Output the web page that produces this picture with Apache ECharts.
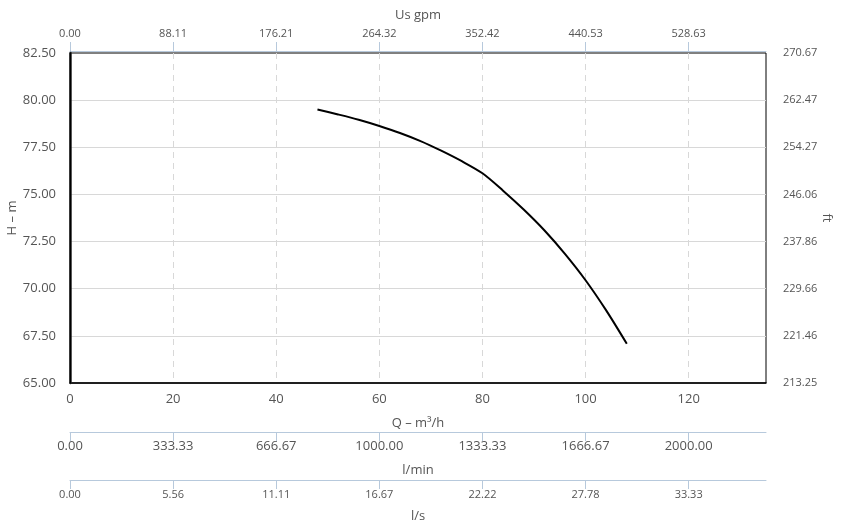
<!DOCTYPE html>
<html><head><meta charset="utf-8">
<script src="https://cdn.jsdelivr.net/npm/echarts@6/dist/echarts.min.js"></script>
<style>html,body{margin:0;padding:0;background:#fff}#c{width:841px;height:532px}</style>
</head><body><div id="c"></div>
<script>
// Data
const flowM3h = [48, 52, 56, 60, 64, 68, 72, 76, 80, 84, 88, 92, 96, 100, 104, 108];
const headM = [79.5, 79.24, 78.96, 78.63, 78.26, 77.83, 77.32, 76.76, 76.12, 75.2, 74.2, 73.1, 71.85, 70.45, 68.85, 67.08];
const qTicks = ['0', '20', '40', '60', '80', '100', '120'];
const gpmTicks = ['0.00', '88.11', '176.21', '264.32', '352.42', '440.53', '528.63'];
const lminTicks = ['0.00', '333.33', '666.67', '1000.00', '1333.33', '1666.67', '2000.00'];
const lsTicks = ['0.00', '5.56', '11.11', '16.67', '22.22', '27.78', '33.33'];
const hTicks = ['65.00', '67.50', '70.00', '72.50', '75.00', '77.50', '80.00', '82.50'];
const ftTicks = ['213.25', '221.46', '229.66', '237.86', '246.06', '254.27', '262.47', '270.67'];

const X_MIN = 0, X_MAX = 135, X_INT = 20;
const Y_MIN = 65, Y_MAX = 82.5, Y_INT = 2.5;
const xTickValues = qTicks.map((_, i) => X_MIN + i * X_INT);
const pick = (arr, v, min, step) => { const i = Math.round((v - min) / step); return arr[i] !== undefined ? arr[i] : ''; };

const FONT = 'Open Sans';
const labelColor = '#555';
const blueLine = '#b7c9dc';

function xAx(extra) {
  return Object.assign({
    type: 'value', min: X_MIN, max: X_MAX, interval: X_INT,
    nameLocation: 'middle', nameMoveOverlap: false,
    nameTextStyle: { color: labelColor, fontFamily: FONT, fontSize: 13 },
    splitLine: { show: false }
  }, extra);
}

const chart = echarts.init(document.getElementById('c'), null, { renderer: 'canvas' });
chart.setOption({
  animation: false,
  grid: { left: 70, right: 75, top: 53, bottom: 149, outerBoundsMode: 'none', containLabel: false, show: true, borderColor: '#000', borderWidth: 1, backgroundColor: 'transparent' },
  xAxis: [
    xAx({
      position: 'bottom', name: 'Q – m³/h', nameGap: 34, z: 1,
      axisLine: { show: true, lineStyle: { color: '#000', width: 1.5 } },
      axisTick: { show: false },
      axisLabel: { color: labelColor, fontFamily: FONT, fontSize: 13, margin: 10, formatter: v => pick(qTicks, v, X_MIN, X_INT) },
      splitLine: { show: true, showMinLine: false, showMaxLine: false, lineStyle: { color: '#d8d8d8', type: [6, 5], width: 1 } }
    }),
    xAx({
      position: 'top', offset: 2, name: 'Us gpm', nameGap: 29,
      axisLine: { show: true, lineStyle: { color: blueLine, width: 1 } },
      axisTick: { show: true, length: 9, customValues: xTickValues, lineStyle: { color: blueLine } },
      axisLabel: { color: labelColor, fontFamily: FONT, fontSize: 11, margin: 12, customValues: xTickValues, formatter: v => pick(gpmTicks, v, X_MIN, X_INT) }
    }),
    xAx({
      position: 'bottom', offset: 49, name: 'l/min', nameGap: 32,
      axisLine: { show: true, lineStyle: { color: blueLine, width: 1 } },
      axisTick: { show: true, length: 9, customValues: xTickValues, lineStyle: { color: blueLine } },
      axisLabel: { color: labelColor, fontFamily: FONT, fontSize: 13, margin: 8, customValues: xTickValues, formatter: v => pick(lminTicks, v, X_MIN, X_INT) }
    }),
    xAx({
      position: 'bottom', offset: 97, name: 'l/s', nameGap: 30,
      axisLine: { show: true, lineStyle: { color: blueLine, width: 1 } },
      axisTick: { show: true, length: 9, customValues: xTickValues, lineStyle: { color: blueLine } },
      axisLabel: { color: labelColor, fontFamily: FONT, fontSize: 11, margin: 9, customValues: xTickValues, formatter: v => pick(lsTicks, v, X_MIN, X_INT) }
    })
  ],
  yAxis: [
    {
      type: 'value', position: 'left', min: Y_MIN, max: Y_MAX, interval: Y_INT, z: 3,
      name: 'H – m', nameLocation: 'middle', nameGap: 51, nameRotate: 90, nameMoveOverlap: false,
      nameTextStyle: { color: labelColor, fontFamily: FONT, fontSize: 13 },
      axisLine: { show: true, lineStyle: { color: '#222', width: 2.5 } },
      axisTick: { show: false },
      axisLabel: { color: labelColor, fontFamily: FONT, fontSize: 13, margin: 14, formatter: v => pick(hTicks, v, Y_MIN, Y_INT) },
      splitLine: { show: true, showMinLine: false, showMaxLine: false, lineStyle: { color: '#d8d8d8', width: 1 } }
    },
    {
      type: 'value', position: 'right', min: Y_MIN, max: Y_MAX, interval: Y_INT, z: 3,
      name: 'ft', nameLocation: 'middle', nameGap: 54, nameRotate: -90, nameMoveOverlap: false,
      nameTextStyle: { color: labelColor, fontFamily: FONT, fontSize: 13 },
      axisLine: { show: true, lineStyle: { color: '#000', width: 1 } },
      axisTick: { show: false },
      axisLabel: { color: labelColor, fontFamily: FONT, fontSize: 11, margin: 17, formatter: v => pick(ftTicks, v, Y_MIN, Y_INT) },
      splitLine: { show: false }
    }
  ],
  series: [{
    type: 'line', xAxisIndex: 0, yAxisIndex: 0, z: 5,
    data: flowM3h.map((x, i) => [x, headM[i]]),
    smooth: 0.3, showSymbol: false,
    lineStyle: { color: '#000', width: 2 }
  }]
});
</script>
</body></html>
